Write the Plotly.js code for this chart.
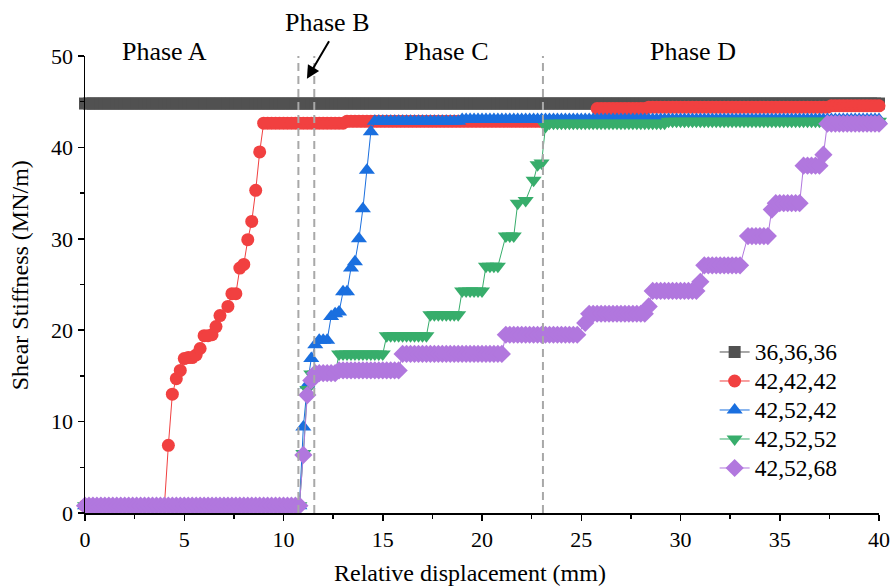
<!DOCTYPE html>
<html>
<head>
<meta charset="utf-8">
<script src="https://cdn.plot.ly/plotly-3.0.1.min.js"></script>
<style>html,body{margin:0;padding:0;background:#fff;}#chart{width:890px;height:586px;}</style>
</head>
<body>
<div id="chart"></div>
<script>
// Relative displacement grid (mm)
const displacement = [
0,0.2,0.4,0.6,0.8,1,1.2,1.4,1.6,1.8,
2,2.2,2.4,2.6,2.8,3,3.2,3.4,3.6,3.8,
4,4.2,4.4,4.6,4.8,5,5.2,5.4,5.6,5.8,
6,6.2,6.4,6.6,6.8,7,7.2,7.4,7.6,7.8,
8,8.2,8.4,8.6,8.8,9,9.2,9.4,9.6,9.8,
10,10.2,10.4,10.6,10.8,11,11.2,11.4,11.6,11.8,
12,12.2,12.4,12.6,12.8,13,13.2,13.4,13.6,13.8,
14,14.2,14.4,14.6,14.8,15,15.2,15.4,15.6,15.8,
16,16.2,16.4,16.6,16.8,17,17.2,17.4,17.6,17.8,
18,18.2,18.4,18.6,18.8,19,19.2,19.4,19.6,19.8,
20,20.2,20.4,20.6,20.8,21,21.2,21.4,21.6,21.8,
22,22.2,22.4,22.6,22.8,23,23.2,23.4,23.6,23.8,
24,24.2,24.4,24.6,24.8,25,25.2,25.4,25.6,25.8,
26,26.2,26.4,26.6,26.8,27,27.2,27.4,27.6,27.8,
28,28.2,28.4,28.6,28.8,29,29.2,29.4,29.6,29.8,
30,30.2,30.4,30.6,30.8,31,31.2,31.4,31.6,31.8,
32,32.2,32.4,32.6,32.8,33,33.2,33.4,33.6,33.8,
34,34.2,34.4,34.6,34.8,35,35.2,35.4,35.6,35.8,
36,36.2,36.4,36.6,36.8,37,37.2,37.4,37.6,37.8,
38,38.2,38.4,38.6,38.8,39,39.2,39.4,39.6,39.8,
40];

// Shear stiffness (MN/m) per configuration
const s36_36_36 = [
44.8,44.8,44.8,44.8,44.8,44.8,44.8,44.8,44.8,44.8,
44.8,44.8,44.8,44.8,44.8,44.8,44.8,44.8,44.8,44.8,
44.8,44.8,44.8,44.8,44.8,44.8,44.8,44.8,44.8,44.8,
44.8,44.8,44.8,44.8,44.8,44.8,44.8,44.8,44.8,44.8,
44.8,44.8,44.8,44.8,44.8,44.8,44.8,44.8,44.8,44.8,
44.8,44.8,44.8,44.8,44.8,44.8,44.8,44.8,44.8,44.8,
44.8,44.8,44.8,44.8,44.8,44.8,44.8,44.8,44.8,44.8,
44.8,44.8,44.8,44.8,44.8,44.8,44.8,44.8,44.8,44.8,
44.8,44.8,44.8,44.8,44.8,44.8,44.8,44.8,44.8,44.8,
44.8,44.8,44.8,44.8,44.8,44.8,44.8,44.8,44.8,44.8,
44.8,44.8,44.8,44.8,44.8,44.8,44.8,44.8,44.8,44.8,
44.8,44.8,44.8,44.8,44.8,44.8,44.8,44.8,44.8,44.8,
44.8,44.8,44.8,44.8,44.8,44.8,44.8,44.8,44.8,44.8,
44.8,44.8,44.8,44.8,44.8,44.8,44.8,44.8,44.8,44.8,
44.8,44.8,44.8,44.8,44.8,44.8,44.8,44.8,44.8,44.8,
44.8,44.8,44.8,44.8,44.8,44.8,44.8,44.8,44.8,44.8,
44.8,44.8,44.8,44.8,44.8,44.8,44.8,44.8,44.8,44.8,
44.8,44.8,44.8,44.8,44.8,44.8,44.8,44.8,44.8,44.8,
44.8,44.8,44.8,44.8,44.8,44.8,44.8,44.8,44.8,44.8,
44.8,44.8,44.8,44.8,44.8,44.8,44.8,44.8,44.8,44.8,
44.8];

const s42_42_42 = [
0.8,0.8,0.8,0.8,0.8,0.8,0.8,0.8,0.8,0.8,
0.8,0.8,0.8,0.8,0.8,0.8,0.8,0.8,0.8,0.8,
0.8,7.4,13.0,14.7,15.6,16.9,17.0,17.0,17.3,18.0,
19.4,19.4,19.5,20.4,21.6,null,22.6,24.0,24.0,26.8,
27.2,29.9,31.9,35.3,39.5,42.65,42.65,42.65,42.65,42.65,
42.65,42.65,42.65,42.65,42.65,42.65,42.65,42.65,42.65,42.65,
42.65,42.65,42.65,42.65,42.65,42.65,42.85,42.85,42.85,42.85,
42.85,42.85,42.85,42.85,42.85,42.85,42.85,42.85,42.85,42.85,
42.85,42.85,42.85,42.85,42.85,42.85,42.85,42.85,42.85,42.85,
42.85,42.85,42.85,42.85,42.85,42.85,42.85,42.85,42.85,42.85,
42.85,42.85,42.85,42.85,42.85,42.85,42.85,42.85,42.85,42.85,
42.85,42.85,42.85,42.85,42.85,42.85,42.85,42.85,42.85,42.85,
42.85,42.85,42.85,42.85,42.85,42.85,42.85,42.85,42.85,44.25,
44.25,44.25,44.25,44.25,44.25,44.25,44.25,44.25,44.25,44.25,
44.25,44.25,44.4,44.4,44.4,44.4,44.4,44.4,44.4,44.4,
44.4,44.4,44.4,44.4,44.4,44.4,44.4,44.4,44.4,44.4,
44.4,44.4,44.4,44.4,44.4,44.4,44.4,44.4,44.4,44.4,
44.4,44.4,44.4,44.4,44.4,44.4,44.4,44.4,44.4,44.4,
44.4,44.4,44.4,44.4,44.4,44.4,44.4,44.4,44.55,44.55,
44.55,44.55,44.55,44.55,44.55,44.55,44.55,44.55,44.55,44.55,
44.55];

const s42_52_42 = [
0.8,0.8,0.8,0.8,0.8,0.8,0.8,0.8,0.8,0.8,
0.8,0.8,0.8,0.8,0.8,0.8,0.8,0.8,0.8,0.8,
0.8,0.8,0.8,0.8,0.8,0.8,0.8,0.8,0.8,0.8,
0.8,0.8,0.8,0.8,0.8,0.8,0.8,0.8,0.8,0.8,
0.8,0.8,0.8,0.8,0.8,0.8,0.8,0.8,0.8,0.8,
0.8,0.8,0.8,0.8,0.8,9.4,14.0,16.9,18.4,18.9,
18.9,18.9,21.5,21.8,22.0,24.2,24.2,26.8,27.5,30.0,
33.3,37.5,41.7,42.85,42.85,42.85,42.85,42.85,42.85,42.85,
42.85,42.85,42.85,42.85,42.85,42.85,42.85,42.85,42.85,42.85,
42.85,42.85,42.85,42.85,42.85,43.05,43.05,43.05,43.05,43.05,
43.05,43.05,43.05,43.05,43.05,43.05,43.05,43.05,43.05,43.05,
43.05,43.05,43.05,43.05,43.05,43.05,43.05,43.05,43.05,43.05,
43.05,43.05,43.05,43.05,43.05,43.05,43.05,43.05,43.05,43.05,
43.05,43.05,43.05,43.05,43.05,43.05,43.05,43.05,43.05,43.05,
43.05,43.05,43.05,43.05,43.05,43.05,43.05,43.05,43.05,43.05,
43.05,43.05,43.05,43.05,43.05,43.05,43.05,43.05,43.05,43.05,
43.05,43.05,43.05,43.05,43.05,43.05,43.05,43.05,43.05,43.05,
43.05,43.05,43.05,43.05,43.05,43.05,43.05,43.05,43.05,43.05,
43.05,43.05,43.05,43.05,43.05,43.05,43.05,43.05,43.05,43.05,
43.05,43.05,43.05,43.05,43.05,43.05,43.05,43.05,43.05,43.05,
43.05];

const s42_52_52 = [
0.8,0.8,0.8,0.8,0.8,0.8,0.8,0.8,0.8,0.8,
0.8,0.8,0.8,0.8,0.8,0.8,0.8,0.8,0.8,0.8,
0.8,0.8,0.8,0.8,0.8,0.8,0.8,0.8,0.8,0.8,
0.8,0.8,0.8,0.8,0.8,0.8,0.8,0.8,0.8,0.8,
0.8,0.8,0.8,0.8,0.8,0.8,0.8,0.8,0.8,0.8,
0.8,0.8,0.8,0.8,0.8,6.5,13.5,15.2,15.2,15.2,
15.2,15.2,15.2,15.2,17.4,17.4,17.4,17.4,17.4,17.4,
17.4,17.4,17.4,17.4,17.4,17.4,19.4,19.4,19.4,19.4,
19.4,19.4,19.4,19.4,19.4,19.4,19.4,21.7,21.7,21.7,
21.7,21.7,21.7,21.7,21.7,24.3,24.3,24.3,24.3,24.3,
24.3,27.0,27.0,27.0,27.0,null,30.3,30.3,30.3,33.9,
null,34.2,null,36.4,38.1,38.3,42.3,42.65,42.65,42.65,
42.65,42.65,42.65,42.65,42.65,42.65,42.65,42.65,42.65,42.65,
42.65,42.65,42.65,42.65,42.65,42.65,42.65,42.65,42.65,42.65,
42.65,42.65,42.65,42.65,42.65,42.65,42.65,42.85,42.85,42.85,
42.85,42.85,42.85,42.85,42.85,42.85,42.85,42.85,42.85,42.85,
42.85,42.85,42.85,42.85,42.85,42.85,42.85,42.85,42.85,42.85,
42.85,42.85,42.85,42.85,42.85,42.85,42.85,42.85,42.85,42.85,
42.85,42.85,42.85,42.85,42.85,42.85,42.85,42.85,42.85,42.85,
42.85,42.85,42.85,42.85,42.85,42.85,42.85,42.85,42.85,42.85,
42.85];

const s42_52_68 = [
0.8,0.8,0.8,0.8,0.8,0.8,0.8,0.8,0.8,0.8,
0.8,0.8,0.8,0.8,0.8,0.8,0.8,0.8,0.8,0.8,
0.8,0.8,0.8,0.8,0.8,0.8,0.8,0.8,0.8,0.8,
0.8,0.8,0.8,0.8,0.8,0.8,0.8,0.8,0.8,0.8,
0.8,0.8,0.8,0.8,0.8,0.8,0.8,0.8,0.8,0.8,
0.8,0.8,0.8,0.8,0.8,6.35,12.9,14.5,15.3,15.3,
15.3,15.3,15.3,15.3,15.6,15.6,15.6,15.6,15.6,15.6,
15.6,15.6,15.6,15.6,15.6,15.6,15.6,15.6,15.6,15.6,
17.4,17.4,17.4,17.4,17.4,17.4,17.4,17.4,17.4,17.4,
17.4,17.4,17.4,17.4,17.4,17.4,17.4,17.4,17.4,17.4,
17.4,17.4,17.4,17.4,17.4,17.4,19.5,19.5,19.5,19.5,
19.5,19.5,19.5,19.5,19.5,19.5,19.5,19.5,19.5,19.5,
19.5,19.5,19.5,19.5,19.5,null,20.8,21.8,21.8,21.8,
21.8,21.8,21.8,21.8,21.8,21.8,21.8,21.8,21.8,21.8,
21.8,21.8,22.6,24.3,24.3,24.3,24.3,24.3,24.3,24.3,
24.3,24.3,24.3,24.3,24.3,25.3,27.1,27.1,27.1,27.1,
27.1,27.1,27.1,27.1,27.1,27.1,null,30.3,30.3,30.3,
30.3,30.3,30.3,33.2,33.9,33.9,33.9,33.9,33.9,33.9,
33.9,38.0,38.0,38.0,38.0,38.0,39.2,42.6,42.6,42.6,
42.6,42.6,42.6,42.6,42.6,42.6,42.6,42.6,42.6,42.6,
42.6];

const seriesNames = ['36,36,36', '42,42,42', '42,52,42', '42,52,52', '42,52,68'];
const seriesValues = [s36_36_36, s42_42_42, s42_52_42, s42_52_52, s42_52_68];
const colors = ['#515151', '#F14040', '#1A6FDF', '#37AD6B', '#B177DE'];
const symbols = ['square', 'circle', 'triangle-up', 'triangle-down', 'diamond'];
const sizes = [12, 13, 14, 14, 14];

const phaseBounds = [10.75, 11.55, 23.07];
const phaseLabels = ['Phase A', 'Phase B', 'Phase C', 'Phase D'];

const FONT = 'Liberation Serif';

const traces = seriesNames.map((n, k) => ({
  type: 'scatter', mode: 'lines+markers',
  name: '<span style="font-size:23.5px">' + n + '</span>',
  x: displacement, y: seriesValues[k], connectgaps: true, cliponaxis: false,
  line: {color: colors[k], width: 1},
  marker: {symbol: symbols[k], size: sizes[k], color: colors[k], line: {width: 0}}
}));

const shapes = phaseBounds.map(b => ({
  type: 'line', xref: 'x', yref: 'y', x0: b, x1: b, y0: 0, y1: 51.5,
  line: {color: '#a8a8a8', width: 2, dash: '8px,5px'}
}));

const phaseFont = {family: FONT, size: 26, color: '#000'};
const annotations = [
  {text: phaseLabels[0], x: 0.0995, y: 1.009, xref: 'paper', yref: 'paper', xanchor: 'center', yanchor: 'middle', showarrow: false, font: phaseFont},
  {text: phaseLabels[1], x: 0.306, y: 1.074, xref: 'paper', yref: 'paper', xanchor: 'center', yanchor: 'middle', showarrow: false, font: phaseFont},
  {text: phaseLabels[2], x: 0.4547, y: 1.009, xref: 'paper', yref: 'paper', xanchor: 'center', yanchor: 'middle', showarrow: false, font: phaseFont},
  {text: phaseLabels[3], x: 0.7657, y: 1.009, xref: 'paper', yref: 'paper', xanchor: 'center', yanchor: 'middle', showarrow: false, font: phaseFont},
  {text: '', x: 11.18, y: 47.5, xref: 'x', yref: 'y', showarrow: true, ax: 23, ay: -39,
   arrowhead: 2, arrowsize: 1.3, arrowwidth: 2, arrowcolor: '#000'},
  {text: 'Relative displacement (mm)', xref: 'paper', yref: 'paper', x: 0.485, y: 0, yshift: -60,
   xanchor: 'center', yanchor: 'middle', showarrow: false, font: {family: FONT, size: 24, color: '#000'}},
  {text: 'Shear Stiffness (MN/m)', xref: 'paper', yref: 'paper', x: 0, xshift: -65, y: 0.52, textangle: -90,
   xanchor: 'center', yanchor: 'middle', showarrow: false, font: {family: FONT, size: 24, color: '#000'}}
];

const axisCommon = {
  showline: true, linecolor: '#000', linewidth: 1.5, mirror: false,
  ticks: 'outside', ticklen: 6, tickwidth: 1.5, tickcolor: '#000',
  showgrid: false, zeroline: false,
  tickfont: {family: FONT, size: 22, color: '#000'}
};

const layout = {
  width: 890, height: 586,
  font: {family: FONT, size: 22, color: '#000'},
  margin: {l: 85, r: 11, t: 56, b: 73},
  paper_bgcolor: '#fff', plot_bgcolor: '#fff',
  showlegend: true,
  legend: {x: 0.793, y: 0.395, xanchor: 'left', yanchor: 'top', bgcolor: 'rgba(0,0,0,0)',
           font: {family: FONT, size: 20, color: '#000'}, tracegroupgap: 0},
  xaxis: Object.assign({}, axisCommon, {range: [0, 40], dtick: 5, tick0: 0,
    minor: {ticks: 'outside', dtick: 2.5, ticklen: 4, tickwidth: 1.5, tickcolor: '#000'}}),
  yaxis: Object.assign({}, axisCommon, {range: [0, 50], dtick: 10, tick0: 0,
    minor: {ticks: 'outside', dtick: 5, ticklen: 4, tickwidth: 1.5, tickcolor: '#000'}}),
  shapes: shapes,
  annotations: annotations
};

Plotly.newPlot('chart', traces, layout, {displayModeBar: false, staticPlot: true});
</script>
</body>
</html>
